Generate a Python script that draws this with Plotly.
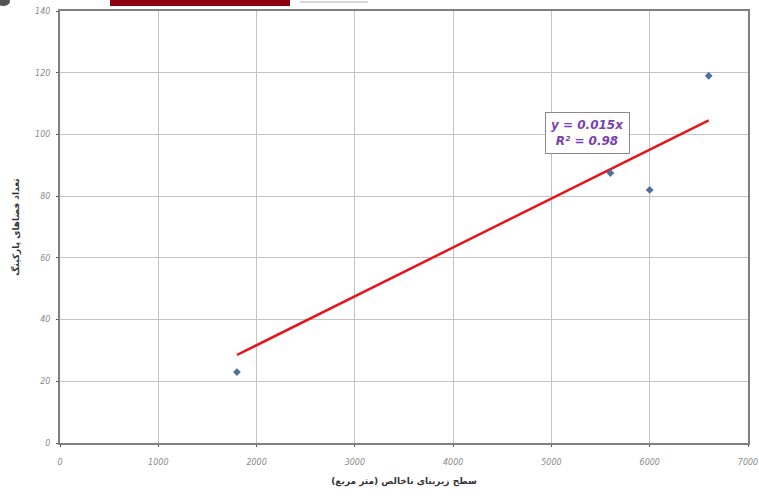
import numpy as np
import plotly.graph_objects as go

# Observed floor area (m²) vs. number of parking spaces
floor_area = [1800, 5600, 6000, 6600]
parking_spaces = [23, 87.5, 82, 119]

x_ticks = [0, 1000, 2000, 3000, 4000, 5000, 6000, 7000]
y_ticks = [0, 20, 40, 60, 80, 100, 120, 140]

x_title = "سطح زیربنای ناخالص (متر مربع)"
y_title = "تعداد فضاهای پارکینگ"

# Linear trend forced through the origin (least squares)
xa = np.array(floor_area, dtype=float)
ya = np.array(parking_spaces, dtype=float)
slope = float((xa * ya).sum() / (xa * xa).sum())
trend_x = [min(floor_area), max(floor_area)]
trend_y = [slope * v for v in trend_x]
eq_text = "y = {:.3f}x".format(np.floor(slope * 1000) / 1000)
r2_text = "R² = 0.98"

fig = go.Figure()

fig.add_trace(go.Scatter(
    x=trend_x, y=trend_y, mode="lines",
    line=dict(color="#e8141c", width=2.5),
    hoverinfo="skip", showlegend=False,
))
fig.add_trace(go.Scatter(
    x=floor_area, y=parking_spaces, mode="markers",
    marker=dict(symbol="diamond", size=6, color="#4f6f9f"),
    showlegend=False,
))

fig.add_annotation(
    x=5370, y=100.5, xref="x", yref="y",
    text="<b><i>" + eq_text + "<br>" + r2_text + "</i></b>",
    showarrow=False, align="center",
    font=dict(family="DejaVu Sans", size=12, color="#7a3fb0"),
    bgcolor="white", bordercolor="#8a8a8a", borderwidth=1, borderpad=5,
)

# Red banner strip along the top edge
fig.add_shape(type="rect", xref="paper", yref="paper",
              x0=(110 - 60) / 688, x1=(290 - 60) / 688,
              y0=1 + 5 / 432, y1=1 + 11 / 432,
              fillcolor="#8e0010", line=dict(width=0), layer="above")
fig.add_shape(type="rect", xref="paper", yref="paper",
              x0=(300 - 60) / 688, x1=(368 - 60) / 688,
              y0=1 + 8 / 432, y1=1 + 10 / 432,
              fillcolor="#d8d8d8", line=dict(width=0), layer="above")
fig.add_shape(type="circle", xref="paper", yref="paper",
              x0=(-4 - 60) / 688, x1=(10 - 60) / 688,
              y0=1 + 5 / 432, y1=1 + 14 / 432,
              fillcolor="#555555", line=dict(width=0), layer="above")

axis_common = dict(
    showgrid=True, gridcolor="#c4c4c4", gridwidth=1,
    showline=True, linecolor="#7f7f7f", linewidth=2, mirror=True,
    ticks="outside", ticklen=2, tickcolor="#555555",
    tickfont=dict(family="DejaVu Sans", size=8, color="#8a8a8a", style="italic"),
    zeroline=False, automargin=False,
)

fig.update_xaxes(
    range=[0, 7000], tickvals=x_ticks, ticktext=[str(v) for v in x_ticks],
    title=dict(text=x_title, font=dict(family="DejaVu Sans", size=9, color="#333333",
                                       weight="bold"), standoff=12),
    ticklabelstandoff=8,
    **axis_common,
)
fig.update_yaxes(
    range=[0, 140], tickvals=y_ticks, ticktext=[str(v) for v in y_ticks],
    title=dict(text=y_title, font=dict(family="DejaVu Sans", size=9, color="#333333",
                                       weight="bold"), standoff=14),
    ticklabelstandoff=4,
    **axis_common,
)

fig.update_layout(
    width=759, height=496,
    margin=dict(l=60, r=11, t=11, b=53),
    paper_bgcolor="white", plot_bgcolor="white",
)

fig.write_html("out.html")
